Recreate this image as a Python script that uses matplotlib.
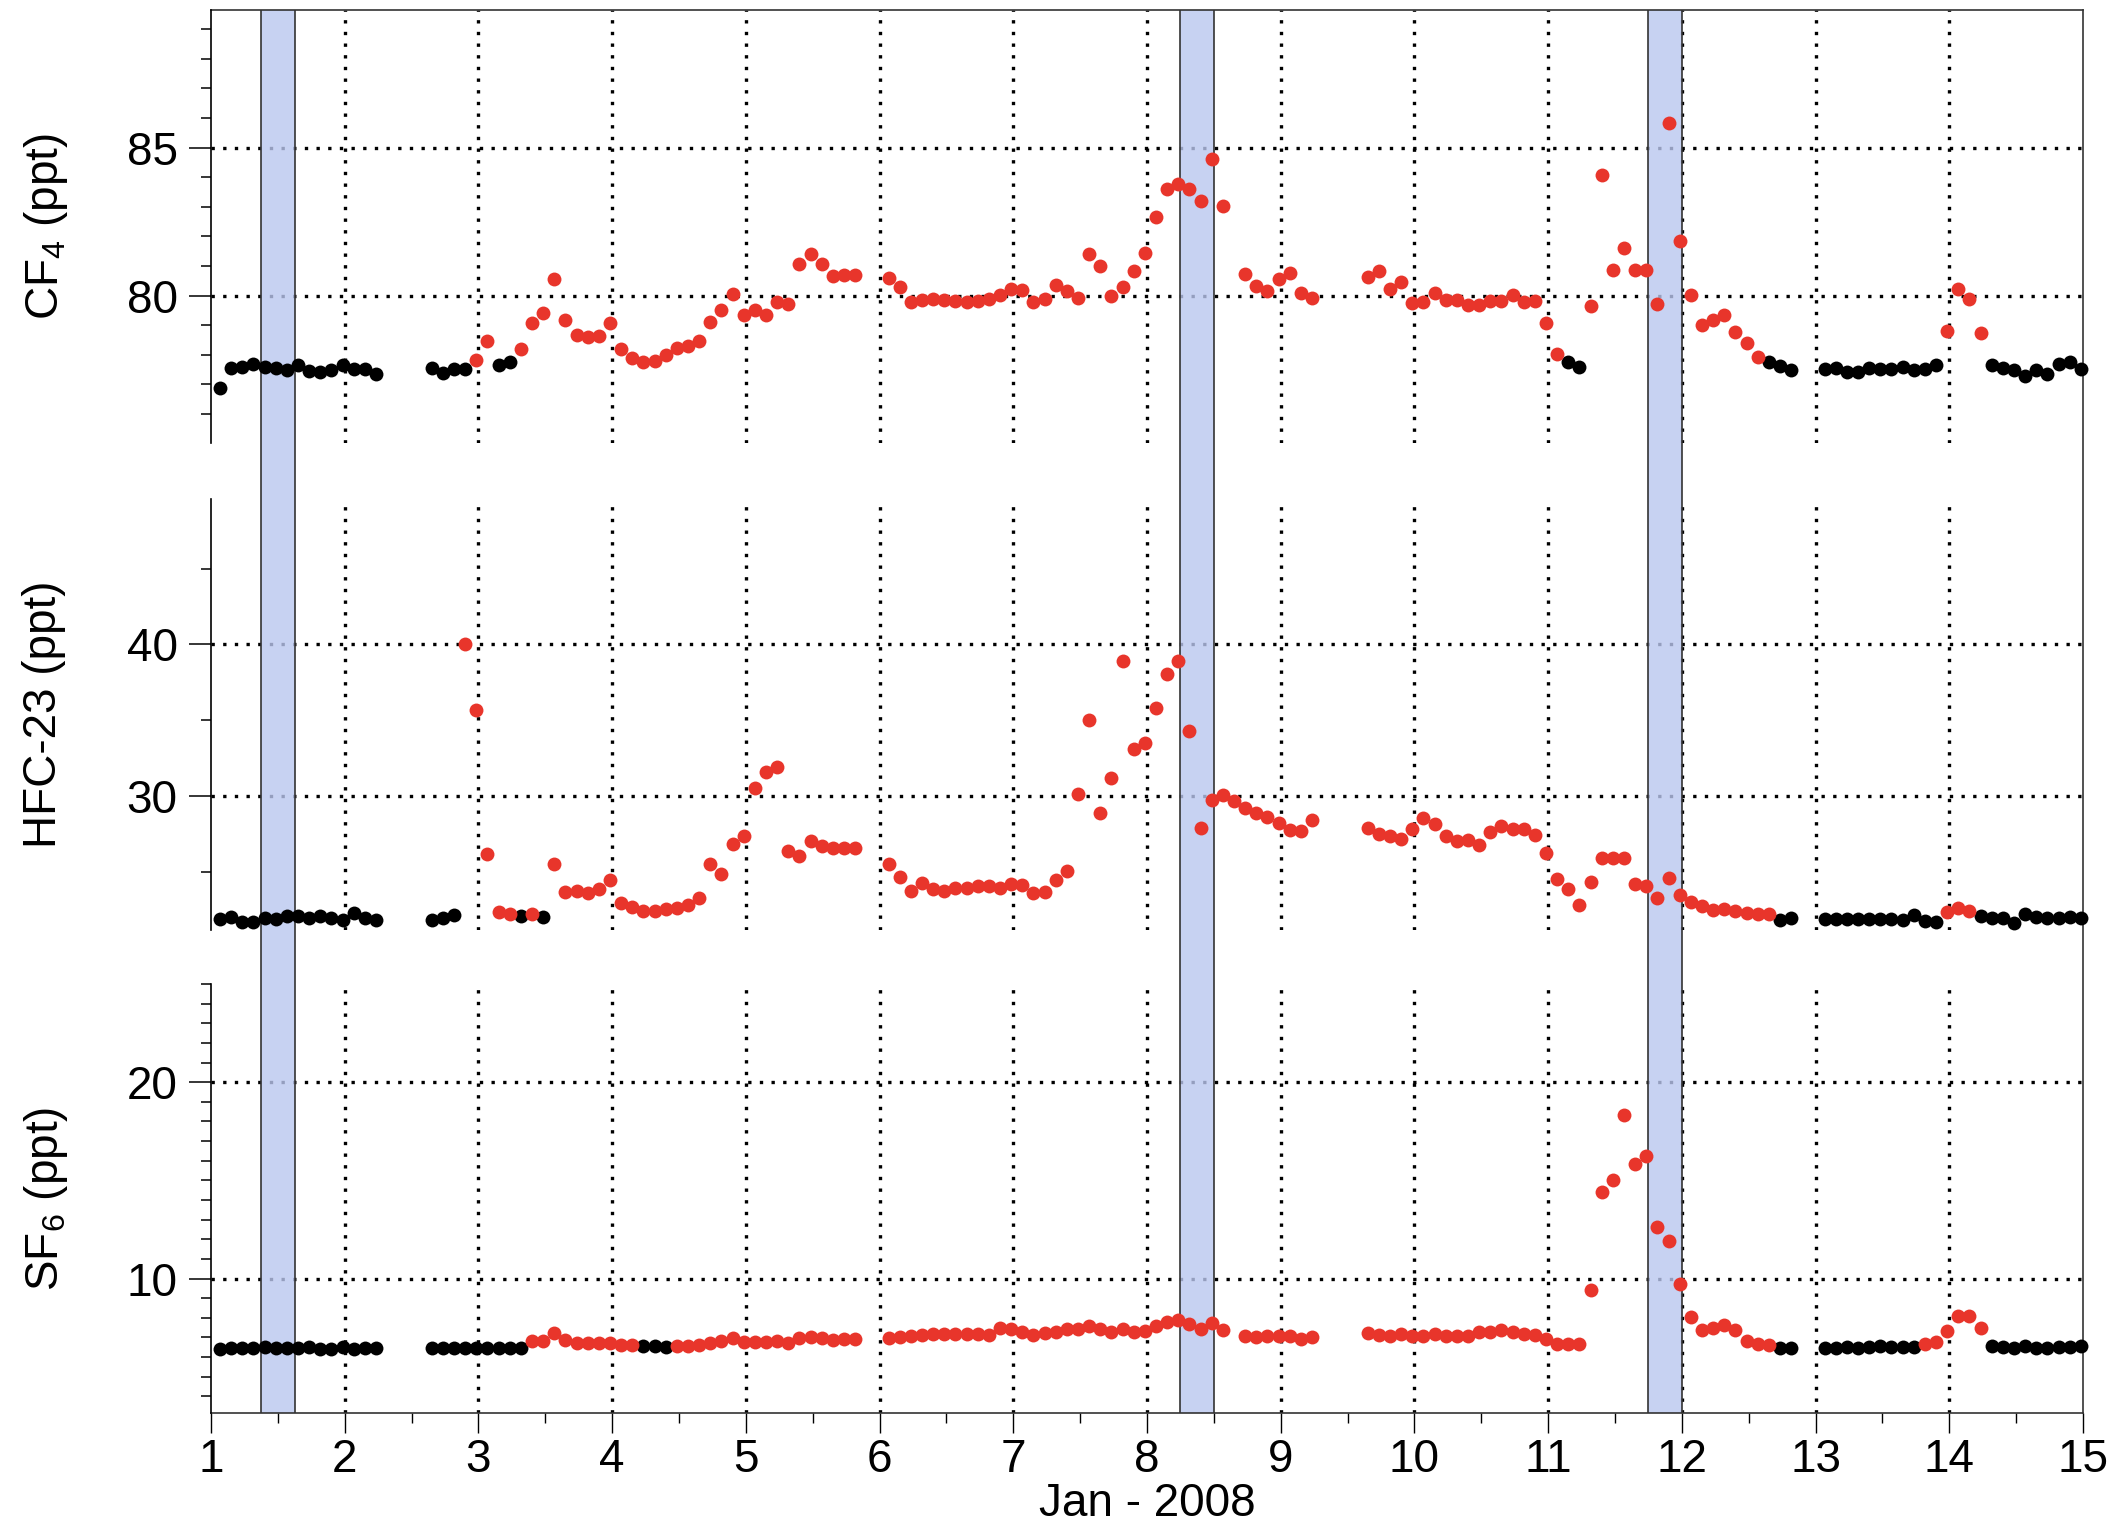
import numpy as np
import matplotlib
matplotlib.use("Agg")
import matplotlib.pyplot as plt
from matplotlib.ticker import MultipleLocator

plt.rcParams['font.family'] = ['Liberation Sans', 'DejaVu Sans']
plt.rcParams['mathtext.fontset'] = 'custom'
plt.rcParams['mathtext.rm'] = 'Liberation Sans'
plt.rcParams['font.size'] = 33

# samples every 2 hours, first one shortly after midnight of Jan 1
t_start = 1.067
step_days = 2.0 / 24.0
n = np.nan

cf4 = [76.87, 77.57, 77.60, 77.69, 77.58, 77.56, 77.47, 77.66, 77.44, 77.41,
       77.49, 77.64, 77.51, 77.52, 77.35, n, n, n, n, 77.55,
       77.40, 77.52, 77.52, 77.82, 78.46, 77.64, 77.77, 78.19, 79.09, 79.40,
       80.55, 79.18, 78.68, 78.59, 78.65, 79.09, 78.19, 77.90, 77.76, 77.79,
       77.98, 78.22, 78.31, 78.45, 79.11, 79.52, 80.06, 79.34, 79.52, 79.36,
       79.80, 79.72, 81.08, 81.40, 81.06, 80.65, 80.71, 80.69, n, n,
       80.59, 80.28, 79.77, 79.85, 79.89, 79.85, 79.82, 79.79, 79.83, 79.89,
       80.01, 80.24, 80.19, 79.77, 79.89, 80.36, 80.17, 79.93, 81.39, 81.00,
       79.99, 80.29, 80.82, 81.43, 82.66, 83.59, 83.78, 83.59, 83.20, 84.63,
       83.03, n, 80.74, 80.33, 80.15, 80.57, 80.78, 80.10, 79.91, n,
       n, n, n, 80.64, 80.83, 80.21, 80.47, 79.74, 79.80, 80.08,
       79.85, 79.85, 79.68, 79.68, 79.82, 79.83, 80.03, 79.78, 79.82, 79.09,
       78.03, 77.75, 77.58, 79.65, 84.07, 80.87, 81.62, 80.87, 80.87, 79.70,
       85.84, 81.86, 80.01, 79.01, 79.18, 79.35, 78.77, 78.39, 77.91, 77.77,
       77.62, 77.47, n, n, 77.51, 77.55, 77.43, 77.43, 77.55, 77.51,
       77.52, 77.60, 77.47, 77.52, 77.66, 78.82, 80.24, 79.90, 78.75, 77.64,
       77.57, 77.47, 77.29, 77.49, 77.35, 77.69, 77.74, 77.52]

hfc23 = [21.85, 22.00, 21.70, 21.70, 21.92, 21.85, 22.09, 22.09, 21.92, 22.09,
         21.96, 21.78, 22.27, 21.92, 21.78, n, n, n, n, 21.81,
         21.92, 22.14, 40.00, 35.70, 26.15, 22.36, 22.22, 22.09, 22.22, 22.00,
         25.48, 23.63, 23.70, 23.61, 23.85, 24.43, 22.93, 22.64, 22.40, 22.40,
         22.51, 22.62, 22.80, 23.26, 25.53, 24.85, 26.81, 27.38, 30.53, 31.59,
         31.89, 26.34, 26.01, 27.00, 26.67, 26.59, 26.59, 26.56, n, n,
         25.48, 24.65, 23.70, 24.25, 23.83, 23.72, 23.92, 23.90, 24.05, 24.05,
         23.94, 24.16, 24.14, 23.57, 23.63, 24.47, 25.04, 30.15, 35.04, 28.88,
         31.19, 38.92, 33.11, 33.50, 35.79, 38.04, 38.88, 34.27, 27.89, 29.76,
         30.04, 29.65, 29.21, 28.88, 28.61, 28.24, 27.75, 27.67, 28.39, n,
         n, n, n, 27.89, 27.51, 27.38, 27.16, 27.80, 28.55, 28.17,
         27.33, 27.00, 27.11, 26.74, 27.60, 28.00, 27.80, 27.79, 27.45, 26.26,
         24.54, 23.83, 22.79, 24.32, 25.88, 25.93, 25.93, 24.19, 24.05, 23.28,
         24.58, 23.48, 23.00, 22.73, 22.44, 22.53, 22.40, 22.27, 22.18, 22.18,
         21.78, 21.96, n, n, 21.85, 21.85, 21.85, 21.85, 21.85, 21.85,
         21.85, 21.78, 22.11, 21.74, 21.70, 22.34, 22.62, 22.38, 22.07, 21.92,
         21.92, 21.61, 22.18, 22.00, 21.96, 21.96, 22.00, 21.92]

sf6 = [6.42, 6.49, 6.45, 6.45, 6.54, 6.49, 6.49, 6.49, 6.54, 6.42,
       6.42, 6.54, 6.42, 6.45, 6.45, n, n, n, n, 6.49,
       6.47, 6.49, 6.49, 6.47, 6.49, 6.49, 6.47, 6.49, 6.83, 6.83,
       7.22, 6.88, 6.71, 6.71, 6.71, 6.74, 6.62, 6.62, 6.57, 6.57,
       6.54, 6.57, 6.59, 6.62, 6.74, 6.83, 6.96, 6.79, 6.76, 6.79,
       6.83, 6.74, 6.96, 7.00, 6.96, 6.88, 6.93, 6.93, n, n,
       6.96, 7.00, 7.08, 7.13, 7.16, 7.16, 7.16, 7.16, 7.16, 7.13,
       7.47, 7.42, 7.30, 7.13, 7.25, 7.30, 7.42, 7.42, 7.59, 7.44,
       7.30, 7.44, 7.27, 7.35, 7.61, 7.78, 7.89, 7.67, 7.42, 7.72,
       7.39, n, 7.08, 7.00, 7.08, 7.08, 7.08, 6.93, 7.00, n,
       n, n, n, 7.22, 7.13, 7.10, 7.16, 7.08, 7.08, 7.16,
       7.08, 7.08, 7.08, 7.30, 7.30, 7.39, 7.28, 7.20, 7.15, 6.92,
       6.69, 6.67, 6.67, 9.41, 14.42, 15.03, 18.34, 15.83, 16.23, 12.63,
       11.91, 9.70, 8.05, 7.39, 7.48, 7.64, 7.39, 6.83, 6.65, 6.62,
       6.48, 6.48, n, n, 6.48, 6.44, 6.53, 6.49, 6.53, 6.57,
       6.53, 6.53, 6.53, 6.65, 6.76, 7.33, 8.10, 8.09, 7.48, 6.57,
       6.53, 6.44, 6.57, 6.49, 6.49, 6.53, 6.53, 6.57]

# b = baseline (black), r = polluted (red), - = no sample
cf4_flag = ("b" * 15 + "-" * 4 + "b" * 4 + "rr" + "bb" + "r" * 31 + "--" + "r" * 31 + "-"
            + "r" * 7 + "----" + "r" * 18 + "bb" + "r" * 16 + "bbb" + "--" + "b" * 11
            + "rrrr" + "b" * 9)
hfc23_flag = ("b" * 15 + "-" * 4 + "bbb" + "r" * 5 + "b" + "r" + "b" + "r" * 28 + "--"
              + "r" * 39 + "----" + "r" * 37 + "bb" + "--" + "b" * 11 + "rrr" + "b" * 10)
sf6_flag = ("b" * 15 + "-" * 4 + "b" * 9 + "r" * 10 + "bbb" + "r" * 17 + "--" + "r" * 31
            + "-" + "r" * 7 + "----" + "r" * 37 + "bb" + "--" + "b" * 9 + "r" * 6 + "b" * 9)

# shaded periods (days)
bands = [(1.375, 1.625), (8.25, 8.50), (11.75, 12.0)]

panels = [
    (r"CF$_4$ (ppt)", cf4, cf4_flag, (75.02, 89.65), [80, 85], 1),
    ("HFC-23 (ppt)", hfc23, hfc23_flag, (21.15, 49.63), [30, 40], 5),
    (r"SF$_6$ (ppt)", sf6, sf6_flag, (3.17, 25.0), [10, 20], 1),
]
# pixel extents (top, bottom) of each panel
rows_px = [(10, 443), (498.6, 930), (984, 1412.7)]

W_px, H_px = 2125, 1531
left = 211 / W_px
width = (2083 - 211) / W_px
red = "#e8352b"

fig = plt.figure(figsize=(W_px / 100, H_px / 100), dpi=100)

dot = dict(color="black", lw=2.4, ls=(0, (1, 2.5)))

# background frame holding the bands and the date axis
top, bot = rows_px[0][0], rows_px[-1][1]
bg = fig.add_axes([left, 1 - bot / H_px, width, (bot - top) / H_px], zorder=1)
bg.patch.set_alpha(0)
bg.set_xlim(1, 15)
bg.set_ylim(0, 1)
bg.set_yticks([])
bg.spines["left"].set_visible(False)
for s in ["top", "right", "bottom"]:
    bg.spines[s].set_linewidth(1.2)
    bg.spines[s].set_color("#333333")
for a, b in bands:
    bg.axvspan(a, b, facecolor=(186 / 255, 199 / 255, 239 / 255), alpha=0.8, lw=0)
    bg.axvline(a, color="#333333", lw=1.2)
    bg.axvline(b, color="#333333", lw=1.2)
bg.xaxis.set_major_locator(MultipleLocator(1))
bg.xaxis.set_minor_locator(MultipleLocator(0.5))
bg.tick_params(axis="x", which="major", length=14.4, width=1, pad=4)
bg.tick_params(axis="x", which="minor", length=7.2, width=1)
bg.set_xlabel("Jan - 2008", labelpad=0)

t = t_start + np.arange(len(cf4)) * step_days

for (label, vals, flags, ylim, majors, minor), (ptop, pbot) in zip(panels, rows_px):
    rect = [left, 1 - pbot / H_px, width, (pbot - ptop) / H_px]
    vals = np.array(vals, dtype=float)
    is_red = np.array([f == "r" for f in flags])

    # grid underneath the bands
    gax = fig.add_axes(rect, zorder=0)
    gax.set_xlim(1, 15)
    gax.set_ylim(*ylim)
    gax.axis("off")
    for d in range(2, 15):
        gax.axvline(d, **dot)
    for m in majors:
        gax.axhline(m, **dot)

    ax = fig.add_axes(rect, zorder=2)
    ax.patch.set_alpha(0)
    ax.set_xlim(1, 15)
    ax.set_ylim(*ylim)
    for s in ["top", "right", "bottom"]:
        ax.spines[s].set_visible(False)
    ax.spines["left"].set_linewidth(1.2)
    ax.set_xticks([])
    ax.set_yticks(majors)
    ax.yaxis.set_minor_locator(MultipleLocator(minor))
    ax.tick_params(axis="y", which="major", length=16, width=1.1, pad=8)
    ax.tick_params(axis="y", which="minor", length=7.5, width=1.1)

    ax.plot(t[~is_red], vals[~is_red], "o", color="black", ms=10, mew=0, clip_on=False)
    ax.plot(t[is_red], vals[is_red], "o", color=red, ms=10, mew=0, clip_on=False)

    fig.text(22 / W_px, 1 - (ptop + pbot) / 2 / H_px, label, rotation=90,
             ha="left", va="center")

fig.savefig("out.png", dpi=100)
